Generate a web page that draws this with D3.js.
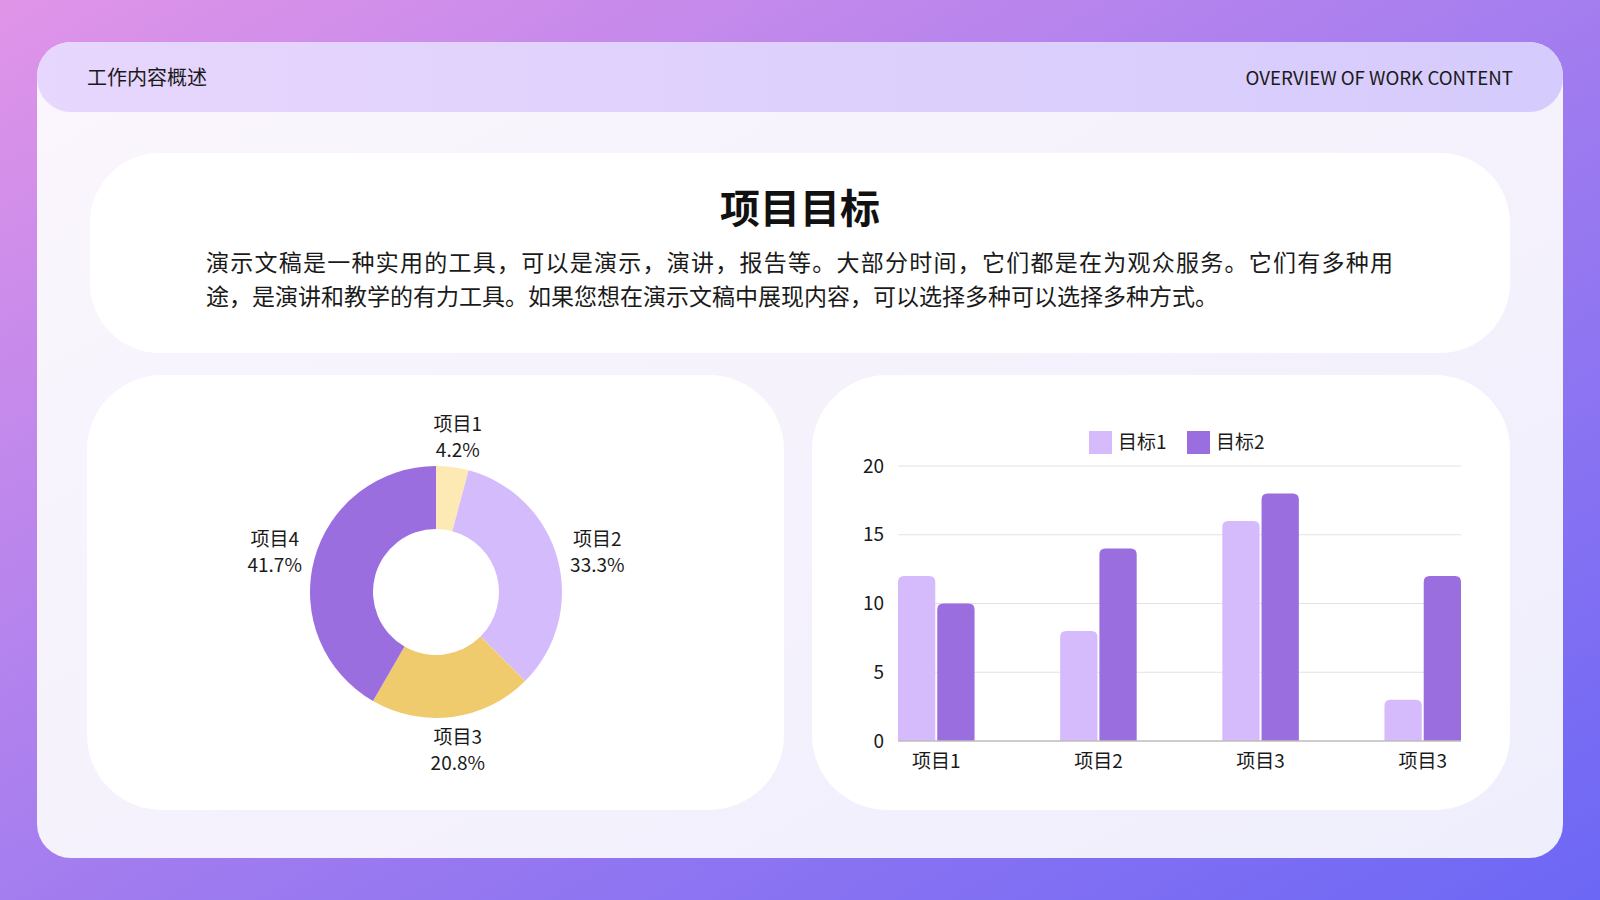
<!DOCTYPE html>
<html>
<head>
<meta charset="utf-8">
<script src="https://cdn.jsdelivr.net/npm/d3@7"></script>
<style>
  body { margin: 0; padding: 0; }
  svg { display: block; font-family: "Noto Sans CJK SC", "Noto Sans", sans-serif; }
</style>
</head>
<body>
<div id="slide"></div>
<script>
// chart data
const pieLabels = ['项目1', '项目2', '项目3', '项目4']
const pieValues = [1, 8, 5, 10]
const pieColors = ['#fde9b4', '#d4bbfc', '#efcb6e', '#9b6ee0']

const barCategories = ['项目1', '项目2', '项目3', '项目3']
const barSeries = ['目标1', '目标2']
const target1 = [12, 8, 16, 3]
const target2 = [10, 14, 18, 12]
const barColors = ['#d5bbfc', '#9b6ee0']
const yTicks = [0, 5, 10, 15, 20]

const headerLeft = '工作内容概述'
const headerRight = 'OVERVIEW OF WORK CONTENT'
const title = '项目目标'
const paragraph = [
  '演示文稿是一种实用的工具，可以是演示，演讲，报告等。大部分时间，它们都是在为观众服务。它们有多种用',
  '途，是演讲和教学的有力工具。如果您想在演示文稿中展现内容，可以选择多种可以选择多种方式。'
]

const width = 1600, height = 900
let svg = d3.select('#slide').append('svg')
  .attr('width', width)
  .attr('height', height)

let defs = svg.append('defs')
function linGrad(id, stops, x2, y2) {
  let g = defs.append('linearGradient').attr('id', id)
    .attr('x1', 0).attr('y1', 0).attr('x2', x2).attr('y2', y2)
  stops.forEach(s => g.append('stop').attr('offset', s[0]).attr('stop-color', s[1]))
}
linGrad('bgGrad', [[0, '#e094e8'], [0.5, '#a47def'], [1, '#6c67f5']], 1, 1)
linGrad('cardGrad', [[0, '#fbf6fd'], [1, '#efeefc']], 1, 1)
linGrad('headGrad', [[0, '#e7d6fd'], [1, '#d5cbfc']], 1, 0)

// background + frames
svg.append('rect').attr('width', width).attr('height', height).attr('fill', 'url(#bgGrad)')
svg.append('rect').attr('x', 37).attr('y', 42).attr('width', 1526).attr('height', 816)
  .attr('rx', 34).attr('fill', 'url(#cardGrad)')
svg.append('rect').attr('x', 37).attr('y', 42).attr('width', 1526).attr('height', 70)
  .attr('rx', 34).attr('fill', 'url(#headGrad)')

svg.append('text').text(headerLeft)
  .attr('x', 87).attr('y', 78).attr('dy', '0.35em')
  .attr('font-size', 20).attr('fill', '#1a1a1a')
svg.append('text').text(headerRight)
  .attr('x', 1513).attr('y', 78).attr('dy', '0.35em')
  .attr('text-anchor', 'end')
  .attr('font-size', 18.7).attr('fill', '#1a1a1a')

// top text card
svg.append('rect').attr('x', 90).attr('y', 153).attr('width', 1420).attr('height', 200)
  .attr('rx', 70).attr('fill', '#ffffff')
svg.append('text').text(title)
  .attr('x', 800).attr('y', 209).attr('dy', '0.35em')
  .attr('text-anchor', 'middle')
  .attr('font-size', 40).attr('font-weight', 'bold').attr('fill', '#111')

// justified paragraph: every line but the last is stretched to the box width
let para = svg.append('g').selectAll('text').data(paragraph).enter().append('text')
  .text(d => d)
  .attr('x', 206).attr('y', (d, i) => 263 + i * 34).attr('dy', '0.35em')
  .attr('font-size', 23).attr('fill', '#1a1a1a')
para.filter((d, i) => i < paragraph.length - 1)
  .attr('textLength', 1187).attr('lengthAdjust', 'spacing')

// bottom cards
svg.append('rect').attr('x', 87).attr('y', 375).attr('width', 697).attr('height', 435)
  .attr('rx', 75).attr('fill', '#ffffff')
svg.append('rect').attr('x', 812).attr('y', 375).attr('width', 698).attr('height', 435)
  .attr('rx', 75).attr('fill', '#ffffff')

// donut chart
const cx = 436, cy = 592, rOuter = 126, rInner = 63
const labelRx = 167, labelRy = 158
let pie = d3.pie().sort(null).value(d => d)
let arcs = pie(pieValues)
let total = d3.sum(pieValues)
let arc = d3.arc().innerRadius(rInner).outerRadius(rOuter)

let donut = svg.append('g').attr('id', 'donut').attr('transform', 'translate(' + cx + ',' + cy + ')')
donut.selectAll('path').data(arcs).enter().append('path')
  .attr('d', arc)
  .attr('fill', (d, i) => pieColors[i])

// labels sit on an ellipse around the ring
let lab = donut.selectAll('g.lab').data(arcs).enter().append('g')
  .attr('class', 'lab')
  .attr('transform', d => {
    let a = (d.startAngle + d.endAngle) / 2
    return 'translate(' + (labelRx * Math.sin(a)) + ',' + (1.5 - labelRy * Math.cos(a)) + ')'
  })
lab.append('text').text((d, i) => pieLabels[i])
  .attr('y', -13).attr('dy', '0.35em').attr('text-anchor', 'middle')
  .attr('font-size', 19).attr('fill', '#1a1a1a')
lab.append('text').text(d => (d.value / total * 100).toFixed(1) + '%')
  .attr('y', 13).attr('dy', '0.35em').attr('text-anchor', 'middle')
  .attr('font-size', 19).attr('fill', '#1a1a1a')

// bar chart
const plot = {left: 898, right: 1461, top: 466, bottom: 741}
let x0 = d3.scaleBand().domain(d3.range(barCategories.length))
  .range([plot.left, plot.right]).paddingInner(0.528).paddingOuter(0)
let x1 = d3.scaleBand().domain(barSeries).range([0, x0.bandwidth()]).paddingInner(0.05)
let y = d3.scaleLinear().domain([0, 20]).range([plot.bottom, plot.top])

let bars = svg.append('g').attr('id', 'bars')
bars.append('g').selectAll('line').data(yTicks.slice(1)).enter().append('line')
  .attr('x1', plot.left).attr('x2', plot.right)
  .attr('y1', d => y(d)).attr('y2', d => y(d))
  .attr('stroke', '#e2e2e2').attr('stroke-width', 1)

let yAxis = d3.axisLeft(y).tickValues(yTicks).tickSize(0).tickPadding(14)
let yG = bars.append('g').attr('transform', 'translate(' + plot.left + ',0)').call(yAxis)
yG.attr('font-family', null).attr('font-size', null)
yG.select('.domain').remove()
yG.selectAll('text').attr('font-size', 19).attr('fill', '#1a1a1a')

function topRounded(x, yTop, w, h, r) {
  r = Math.min(r, h, w / 2)
  return 'M' + x + ',' + (yTop + h) +
    'V' + (yTop + r) +
    'Q' + x + ',' + yTop + ' ' + (x + r) + ',' + yTop +
    'H' + (x + w - r) +
    'Q' + (x + w) + ',' + yTop + ' ' + (x + w) + ',' + (yTop + r) +
    'V' + (yTop + h) + 'Z'
}

let barData = []
barCategories.forEach((c, i) => {
  barData.push({cat: i, series: barSeries[0], value: target1[i], color: barColors[0]})
  barData.push({cat: i, series: barSeries[1], value: target2[i], color: barColors[1]})
})
bars.append('g').selectAll('path').data(barData).enter().append('path')
  .attr('d', d => topRounded(x0(d.cat) + x1(d.series), y(d.value), x1.bandwidth(), y(0) - y(d.value), 6))
  .attr('fill', d => d.color)

bars.append('line')
  .attr('x1', plot.left).attr('x2', plot.right)
  .attr('y1', y(0)).attr('y2', y(0))
  .attr('stroke', '#bdbdbd').attr('stroke-width', 1.5)

bars.append('g').selectAll('text').data(barCategories).enter().append('text')
  .text(d => d)
  .attr('x', (d, i) => x0(i) + x0.bandwidth() / 2)
  .attr('y', 761).attr('dy', '0.35em').attr('text-anchor', 'middle')
  .attr('font-size', 19).attr('fill', '#1a1a1a')

// legend
let legend = svg.append('g').attr('id', 'legend')
const legendX = [1089, 1187]
barSeries.forEach((s, i) => {
  legend.append('rect').attr('x', legendX[i]).attr('y', 431).attr('width', 23).attr('height', 23)
    .attr('fill', barColors[i])
  legend.append('text').text(s)
    .attr('x', legendX[i] + 29).attr('y', 442.5).attr('dy', '0.35em')
    .attr('font-size', 19).attr('fill', '#1a1a1a')
})
</script>
</body>
</html>
